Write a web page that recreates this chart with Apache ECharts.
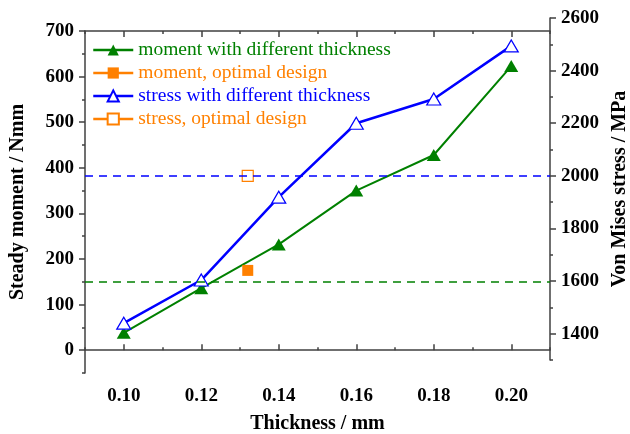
<!DOCTYPE html>
<html>
<head>
<meta charset="utf-8">
<script src="https://cdn.jsdelivr.net/npm/echarts@6/dist/echarts.min.js"></script>
<style>
  html, body { margin: 0; padding: 0; background: #fff; }
  #chart { width: 630px; height: 434px; }
</style>
</head>
<body>
<div id="chart"></div>
<script>
var thickness = [0.10, 0.12, 0.14, 0.16, 0.18, 0.20];
var momentValues = [38, 136, 232, 350, 428, 623];
var stressValues = [1440, 1604, 1919, 2200, 2292, 2494];
var optimalThickness = 0.132;
var optimalMoment = 175;
var optimalStress = 2000;
var momentLimit = 150;
var stressLimit = 2000;

var xMajor = [0.10, 0.12, 0.14, 0.16, 0.18, 0.20];
var xMinor = [0.09, 0.11, 0.13, 0.15, 0.17, 0.19, 0.21];
var leftMajor = [0, 100, 200, 300, 400, 500, 600, 700];
var leftMinor = [-50, 50, 150, 250, 350, 450, 550, 650];
var rightMajor = [1400, 1600, 1800, 2000, 2200, 2400, 2600];
var rightMinor = [1300, 1500, 1700, 1900, 2100, 2300, 2500];

var names = ['moment with different thickness', 'moment, optimal design',
             'stress with different thickness', 'stress, optimal design'];

var green = '#008000', orange = '#FF8000', blue = '#0000FF', axisColor = '#404040';
var serif = 'Liberation Serif';

function pairs(xs, ys) {
  return xs.map(function (x, i) { return [x, ys[i]]; });
}

function xAxisOf(grid, pos, ticks, len, labels) {
  return {
    type: 'value', gridIndex: grid, position: pos, min: 0.09, max: 0.21,
    axisLine: { show: len > 4, lineStyle: { color: axisColor, width: 1.5 } },
    axisTick: { show: true, inside: true, length: len, customValues: ticks,
                lineStyle: { color: axisColor, width: 1.5 } },
    axisLabel: labels ? {
      customValues: xMajor, margin: 14, color: '#000',
      fontFamily: serif, fontWeight: 'bold', fontSize: 19,
      formatter: function (v) { return v.toFixed(2); }
    } : { show: false },
    splitLine: { show: false }
  };
}

function yAxisOf(grid, pos, min, max, ticks, len, labels) {
  return {
    type: 'value', gridIndex: grid, position: pos, min: min, max: max,
    axisLine: { show: len > 4, lineStyle: { color: axisColor, width: 1.5 } },
    axisTick: { show: true, inside: false, length: len, customValues: ticks,
                lineStyle: { color: axisColor, width: 1.5 } },
    axisLabel: labels ? {
      customValues: labels, margin: 11, color: '#000',
      fontFamily: serif, fontWeight: 'bold', fontSize: 19,
      formatter: function (v) { return String(v); }
    } : { show: false },
    splitLine: { show: false }
  };
}

var chart = echarts.init(document.getElementById('chart'));

var xAxes = [
  xAxisOf(0, 'bottom', xMajor, 6, true),
  xAxisOf(0, 'bottom', xMinor, 3, false),
  xAxisOf(0, 'top', xMajor, 6, false),
  xAxisOf(0, 'top', xMinor, 3, false),
  { type: 'value', gridIndex: 1, min: 0.09, max: 0.21, show: false }
];
xAxes[0].name = 'Thickness / mm';
xAxes[0].nameLocation = 'middle';
xAxes[0].nameGap = 41;
xAxes[0].nameTextStyle = { fontFamily: serif, fontWeight: 'bold', fontSize: 20, color: '#000' };

var yAxes = [
  yAxisOf(0, 'left', -50, 700, leftMajor, 6, leftMajor),
  yAxisOf(0, 'left', -50, 700, leftMinor, 3, null),
  yAxisOf(1, 'right', 1300, 2600, rightMajor, 6, rightMajor),
  yAxisOf(1, 'right', 1300, 2600, rightMinor, 3, null)
];
yAxes[0].name = 'Steady moment / Nmm';
yAxes[0].nameLocation = 'middle';
yAxes[0].nameRotate = 90;
yAxes[0].nameGap = 57;
yAxes[0].nameTextStyle = { fontFamily: serif, fontWeight: 'bold', fontSize: 20, color: '#000' };
yAxes[2].name = 'Von Mises stress / MPa';
yAxes[2].nameLocation = 'middle';
yAxes[2].nameRotate = 90;
yAxes[2].nameGap = 58;
yAxes[2].nameTextStyle = { fontFamily: serif, fontWeight: 'bold', fontSize: 20, color: '#000' };

chart.setOption({
  animation: false,
  backgroundColor: '#fff',
  grid: [
    { left: 85, right: 80, top: 31, bottom: 61, outerBoundsMode: 'none' },
    { left: 85, right: 80, top: 18, bottom: 74, outerBoundsMode: 'none' }
  ],
  legend: {
    orient: 'vertical', left: 87, top: 35,
    itemWidth: 40, itemHeight: 14, itemGap: 3,
    lineStyle: { width: 2.5 },
    textStyle: { fontFamily: serif, fontSize: 19.5 },
    data: [
      { name: names[0], textStyle: { color: green } },
      { name: names[1], textStyle: { color: orange } },
      { name: names[2], textStyle: { color: blue } },
      { name: names[3], textStyle: { color: orange } }
    ]
  },
  xAxis: xAxes,
  yAxis: yAxes,
  series: [
    {
      name: names[0], type: 'line', xAxisIndex: 0, yAxisIndex: 0,
      data: pairs(thickness, momentValues),
      symbol: 'triangle', symbolSize: [14, 12],
      itemStyle: { color: green },
      lineStyle: { color: green, width: 2 },
      markLine: {
        silent: true, symbol: 'none', label: { show: false },
        lineStyle: { color: green, type: [8, 6], width: 1.5 },
        data: [{ yAxis: momentLimit }]
      }
    },
    {
      name: names[1], type: 'line', xAxisIndex: 0, yAxisIndex: 0,
      data: [[optimalThickness, optimalMoment]],
      symbol: 'rect', symbolSize: 11,
      itemStyle: { color: orange },
      lineStyle: { color: orange, width: 2 }
    },
    {
      name: names[2], type: 'line', xAxisIndex: 4, yAxisIndex: 2,
      data: pairs(thickness, stressValues),
      symbol: 'triangle', symbolSize: [14, 12],
      itemStyle: { color: '#fff', borderColor: blue, borderWidth: 1.2 },
      lineStyle: { color: blue, width: 2.5 },
      markLine: {
        silent: true, symbol: 'none', label: { show: false },
        lineStyle: { color: blue, type: [8, 6], width: 1.5 },
        data: [{ yAxis: stressLimit }]
      }
    },
    {
      name: names[3], type: 'line', xAxisIndex: 4, yAxisIndex: 2,
      data: [[optimalThickness, optimalStress]],
      symbol: 'rect', symbolSize: 11,
      itemStyle: { color: '#fff', borderColor: orange, borderWidth: 1.2 },
      lineStyle: { color: orange, width: 2 }
    }
  ]
});
</script>
</body>
</html>
